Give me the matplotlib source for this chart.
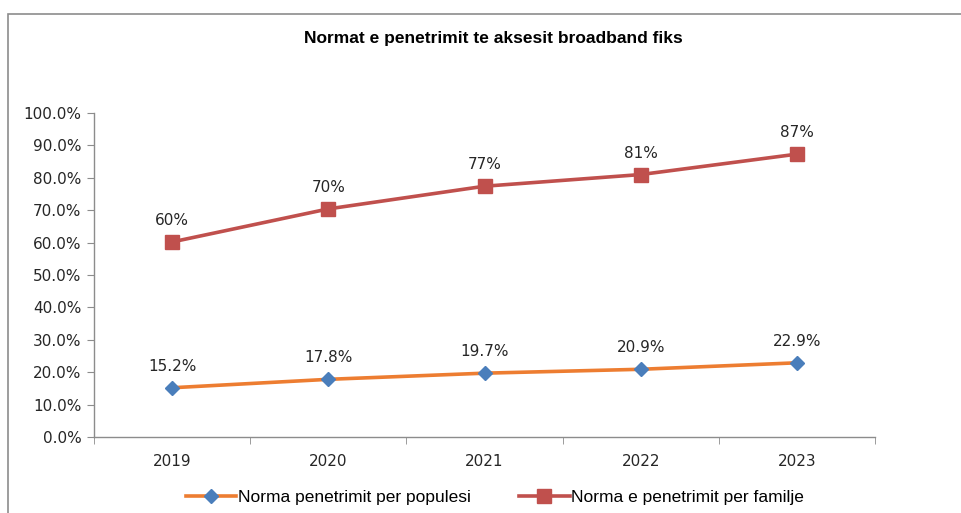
import matplotlib
matplotlib.use("Agg")
import matplotlib.pyplot as plt
from matplotlib.patches import Rectangle

years = ["2019", "2020", "2021", "2022", "2023"]
pop_values = [15.2, 17.8, 19.7, 20.9, 22.9]
fam_values = [60.2, 70.4, 77.4, 81.0, 87.3]
pop_labels = ["15.2%", "17.8%", "19.7%", "20.9%", "22.9%"]
fam_labels = ["60%", "70%", "77%", "81%", "87%"]
yticks = [0, 10, 20, 30, 40, 50, 60, 70, 80, 90, 100]
title = "Normat e penetrimit te aksesit broadband fiks"
pop_name = "Norma penetrimit per populesi"
fam_name = "Norma e penetrimit per familje"

W, H = 962, 513
fig = plt.figure(figsize=(W / 100, H / 100), dpi=100)
fig.patch.set_facecolor("white")
# outer chart frame
fig.add_artist(Rectangle((8 / W, -0.1), 1.2, (H - 14) / H + 0.1, transform=fig.transFigure,
                         fill=False, edgecolor="#8c8c8c", linewidth=1.2))

ax = fig.add_axes([94 / W, (H - 437) / H, (875 - 94) / W, (437 - 113) / H])
x = list(range(len(years)))
orange = "#ED7D31"
blue = "#4A7EBB"
red = "#C0504D"
ax.plot(x, pop_values, color=orange, lw=2.6, marker="D", ms=7,
        markerfacecolor=blue, markeredgecolor=blue, label=pop_name, zorder=3)
ax.plot(x, fam_values, color=red, lw=2.6, marker="s", ms=10,
        markerfacecolor=red, markeredgecolor=red, label=fam_name, zorder=3)

for xi, v, t in zip(x, pop_values, pop_labels):
    ax.annotate(t, (xi, v), xytext=(0, 10), textcoords="offset points", ha="center",
                va="bottom", fontsize=11, color="#262626")
for xi, v, t in zip(x, fam_values, fam_labels):
    ax.annotate(t, (xi, v), xytext=(0, 10), textcoords="offset points", ha="center",
                va="bottom", fontsize=11, color="#262626")

ax.set_xlim(-0.5, len(years) - 0.5)
ax.set_ylim(0, 100)
ax.set_yticks(yticks)
ax.set_yticklabels([f"{t:.1f}%" for t in yticks], fontsize=11, color="#262626")
ax.set_xticks(x)
ax.set_xticklabels(years, fontsize=11, color="#262626")
ax.set_xticks([i - 0.5 for i in range(len(years) + 1)], minor=True)
ax.tick_params(axis="x", which="major", length=0, pad=12)
ax.tick_params(axis="x", which="minor", length=5, color="#8c8c8c", direction="out")
ax.tick_params(axis="y", length=5, color="#8c8c8c", direction="out", pad=4)
for s in ["top", "right"]:
    ax.spines[s].set_visible(False)
for s in ["left", "bottom"]:
    ax.spines[s].set_color("#8c8c8c")
    ax.spines[s].set_linewidth(1.0)

fig.text(493 / W, (H - 38) / H, title, ha="center", va="center", fontsize=12.5,
         fontweight="bold", family="Liberation Sans", color="black")

leg = fig.legend(loc="center", bbox_to_anchor=(495 / W, (H - 497) / H), ncol=2,
                 frameon=False, handlelength=2.9, handletextpad=0.1,
                 columnspacing=2.8, prop={"family": "Liberation Sans", "size": 12.5})

fig.savefig("out.png", dpi=100, facecolor="white")
